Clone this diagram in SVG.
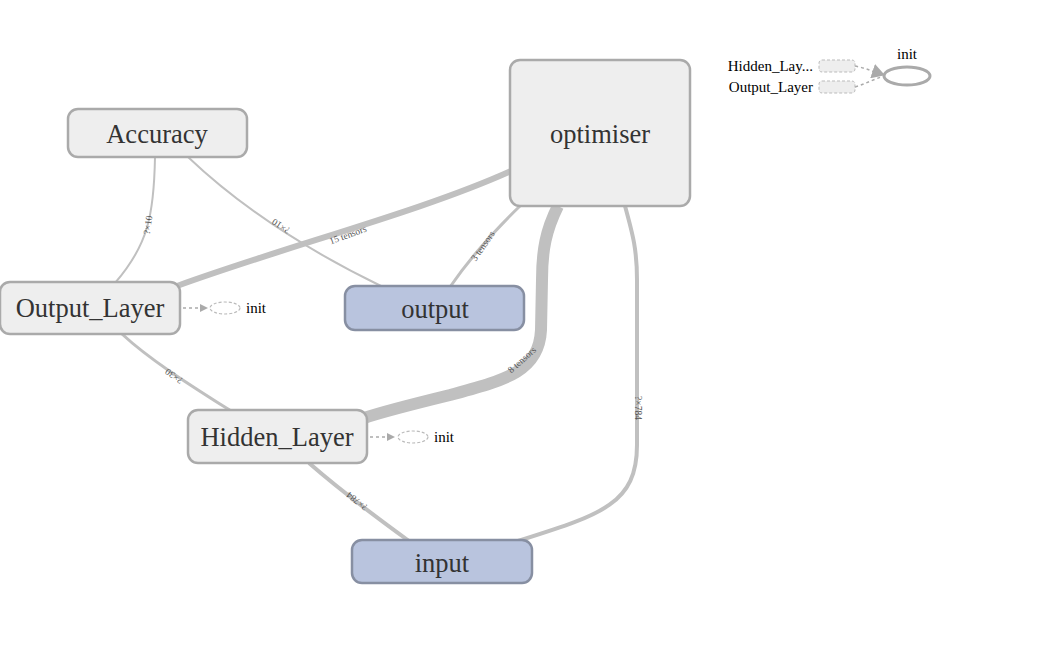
<svg xmlns="http://www.w3.org/2000/svg" width="1050" height="662" viewBox="0 0 1050 662">
<defs>
<marker id="arr" markerWidth="8" markerHeight="8" refX="7" refY="4" orient="auto" markerUnits="userSpaceOnUse">
<path d="M0,0 L8,4 L0,8 Z" fill="#aaa"/>
</marker>
<marker id="arrBig" markerWidth="13" markerHeight="15" refX="12" refY="7.5" orient="auto" markerUnits="userSpaceOnUse">
<path d="M0,0 L13,7.5 L0,15 Z" fill="#aaa"/>
</marker>
<style>
.node rect{fill:#eee;stroke:#aaa;stroke-width:2.5}
.node.io rect{fill:#b9c4de;stroke:#878fa2}
.node text{font-family:"Liberation Serif",serif;font-size:26.5px;fill:#333;text-anchor:middle}
.edge{fill:none;stroke:#c0c0c0}
.elbl{font-family:"Liberation Serif",serif;font-size:9.5px;fill:#555;text-anchor:middle}
.dash{fill:none;stroke:#aaa;stroke-width:1.5;stroke-dasharray:3,3}
.small{font-family:"Liberation Serif",serif;font-size:15px;fill:#000}
</style>
</defs>
<rect width="1050" height="662" fill="#fff"/>
<g id="connectors">
<path class="edge" stroke-width="2" d="M155,157 C154,215 148,245 115,283"/>
<path class="edge" stroke-width="2" d="M188,157 C230,197 290,242 383,287"/>
<path class="edge" stroke-width="6" d="M177,286 C290,245 420,212 511,171"/>
<path class="edge" stroke-width="3" d="M450,287 C470,258 495,230 520,206"/>
<path class="edge" stroke-width="3" d="M122,334 C150,360 190,385 231,411"/>
<path class="edge" stroke-width="12" d="M558,206 C546,230 542,250 542,280 L541,330 C539,372 505,380 450,395 C405,406 385,411 364,418"/>
<path class="edge" stroke-width="4" d="M309,463 C340,490 380,520 409,541"/>
<path class="edge" stroke-width="4" d="M625,206 C633,235 637,250 637,280 L637,445 C637,505 600,515 515,542"/>
<text class="elbl" transform="translate(148,225) rotate(-82)" dy="3">?×10</text>
<text class="elbl" transform="translate(281,226) rotate(213)" dy="3">?×10</text>
<text class="elbl" transform="translate(348,235) rotate(-20)" dy="3">15 tensors</text>
<text class="elbl" transform="translate(483,246) rotate(-55)" dy="3">3 tensors</text>
<text class="elbl" transform="translate(174,376) rotate(215)" dy="3">?×30</text>
<text class="elbl" transform="translate(522,360) rotate(-42)" dy="3">8 tensors</text>
<text class="elbl" transform="translate(357,501) rotate(218)" dy="3">?×784</text>
<text class="elbl" transform="translate(638,408) rotate(90)" dy="3">?×784</text>
<path class="dash" d="M183,308 L207,308" marker-end="url(#arr)"/>
<path class="dash" d="M370,437 L394,437" marker-end="url(#arr)"/>
<path class="dash" d="M855,66 C865,68 872,71 884,75" marker-end="url(#arrBig)"/>
<path class="dash" d="M855,87 C865,84 872,80 884,76"/>
</g>
<g id="node-accuracy" class="node"><rect x="68" y="109" width="179" height="48" rx="10"/><text x="157" y="143">Accuracy</text></g>
<g id="node-optimiser" class="node"><rect x="510" y="60" width="180" height="146" rx="10"/><text x="600" y="143">optimiser</text></g>
<g id="node-output-layer" class="node"><rect x="0" y="282" width="180" height="52" rx="10"/><text x="90" y="317">Output_Layer</text></g>
<g id="node-output" class="node io"><rect x="345" y="286" width="179" height="44" rx="10"/><text x="435" y="318">output</text></g>
<g id="node-hidden-layer" class="node"><rect x="188" y="410" width="179" height="53" rx="10"/><text x="277" y="446">Hidden_Layer</text></g>
<g id="node-input" class="node io"><rect x="352" y="540" width="180" height="43" rx="10"/><text x="442" y="572">input</text></g>
<g id="node-init-output-layer"><ellipse cx="225" cy="308" rx="15" ry="6" fill="#fff" stroke="#bbb" stroke-width="1.2" stroke-dasharray="3,2"/><text class="small" x="246" y="313" font-size="13.5">init</text></g>
<g id="node-init-hidden-layer"><ellipse cx="413" cy="437" rx="15" ry="6" fill="#fff" stroke="#bbb" stroke-width="1.2" stroke-dasharray="3,2"/><text class="small" x="434" y="442" font-size="13.5">init</text></g>
<g id="node-init">
<rect x="819" y="60" width="36" height="12" rx="3" fill="#eee" stroke="#bbb" stroke-width="1" stroke-dasharray="3,2"/>
<text class="small" x="813" y="71" text-anchor="end">Hidden_Lay...</text>
<rect x="819" y="81" width="36" height="12" rx="3" fill="#eee" stroke="#bbb" stroke-width="1" stroke-dasharray="3,2"/>
<text class="small" x="813" y="92" text-anchor="end">Output_Layer</text>
<ellipse cx="907" cy="76" rx="23" ry="9" fill="#fff" stroke="#aaa" stroke-width="3"/>
<text class="small" x="907" y="59" text-anchor="middle" font-size="17">init</text>
</g>
</svg>
